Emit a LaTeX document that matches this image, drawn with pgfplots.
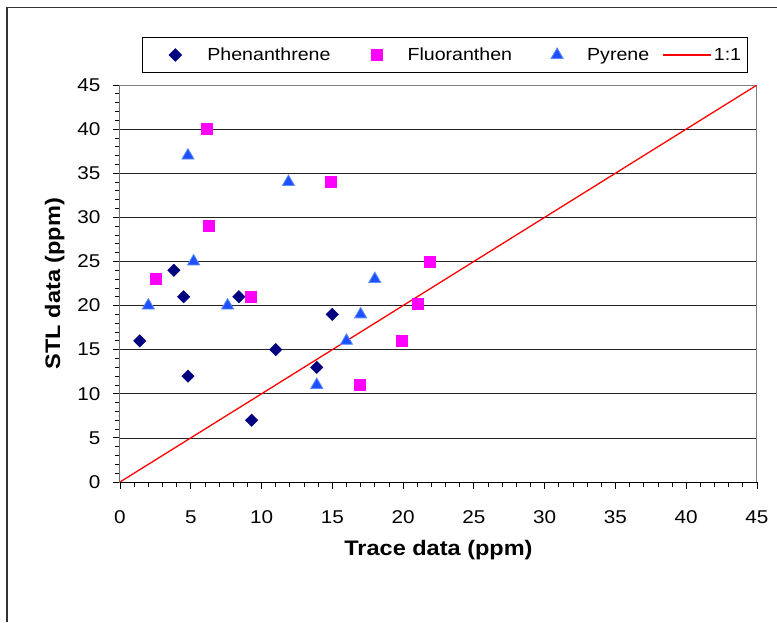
\documentclass[border=0pt]{standalone}
\usepackage{pgfplots}
\pgfplotsset{compat=1.18}
\usepackage{fontspec}
\setmainfont{Liberation Sans}[FakeStretch=1.12]
\definecolor{phen}{RGB}{0,0,128}
\definecolor{fluo}{RGB}{255,0,255}
\definecolor{pyr}{RGB}{30,80,255}
\definecolor{pyredge}{RGB}{90,140,255}
\pgfplotsset{
  markleg/.style n args={2}{legend image code/.code={%
    \path[draw=none,fill=none] (0pt,0pt) -- (#1,0pt); \draw[##1] plot coordinates {(#2,0pt)};}},
  lineleg/.style n args={2}{legend image code/.code={%
    \path[draw=none,fill=none] (0pt,0pt) -- (#2,0pt); \draw[##1] (#1,0pt) -- (#2,0pt);}},
}
\begin{document}
\begin{tikzpicture}
\useasboundingbox (0pt,0pt) rectangle (777pt,622pt);
\draw[line width=1.3pt, black!80] (7pt,0pt) -- (7pt,614.5pt) -- (777pt,614.5pt);
\begin{axis}[
  at={(120pt,140pt)}, anchor=origin,
  width=637pt, height=397pt, scale only axis,
  xmin=0, xmax=45, ymin=0, ymax=45,
  xtick={0,5,...,45}, ytick={0,5,...,45},
  minor x tick num=4, minor y tick num=4,
  xtick pos=bottom, ytick pos=left,
  tick align=outside,
  major tick length=7pt, minor tick length=5pt,
  every tick/.style={black, line width=0.8pt},
  axis line style={gray, line width=1pt},
  ymajorgrids, major grid style={black!85, line width=0.7pt},
  /pgf/number format/assume math mode=true,
  tick label style={font=\fontsize{18.5}{18.5}\selectfont},
  xticklabel style={yshift=-18pt},
  yticklabel style={xshift=-9pt},
  xlabel={Trace data (ppm)}, ylabel={STL data (ppm)},
  label style={font=\fontsize{21}{21}\selectfont\bfseries},
  xlabel style={yshift=-10pt},
  ylabel style={yshift=6pt},
  legend columns=4,
  legend style={at={(axis description cs:0.0345,1.1209)}, anchor=north west,
    draw=black, line width=0.8pt, font=\fontsize{17.5}{17.5}\selectfont,
    inner xsep=4pt, inner ysep=8.5pt, column sep=0pt},
  legend cell align=left,
]
\addplot[only marks, mark=square*, mark size=4.4pt, color=phen, mark options={rotate=45},
  markleg={59pt}{29pt}]
  coordinates {
  (1.4,16) (3.8,24) (4.5,21) (4.8,12) (8.4,21) (9.3,7) (11,15) (13.9,13) (15,19)
};
\addlegendentry{Phenanthrene}
\addplot[only marks, mark=square*, mark size=5.5pt, color=fluo, markleg={73pt}{44pt}]
  coordinates {
  (2.5,23) (6.1,40) (6.3,29) (9.2,21) (14.9,34) (16.9,11) (19.9,16) (21,20.2) (21.9,25)
};
\addlegendentry{Fluoranthen}
\addplot[only marks, mark=triangle*, mark size=7pt,
  mark options={fill=pyr, draw=pyredge, line width=0.8pt}, markleg={71pt}{43pt}]
  coordinates {
  (2,20) (4.8,37) (5.2,25) (7.6,20) (11.9,34) (13.9,11) (16,16) (17,19) (18,23)
};
\addlegendentry{Pyrene}
\addplot[red, line width=1.3pt, lineleg={12pt}{60pt}]
  coordinates {(0,0) (45,45)};
\addlegendentry{1:1}
\draw[black, line width=1pt] (rel axis cs:0,1) -- (rel axis cs:0,0) -- (rel axis cs:1,0);
\end{axis}
\end{tikzpicture}
\end{document}
